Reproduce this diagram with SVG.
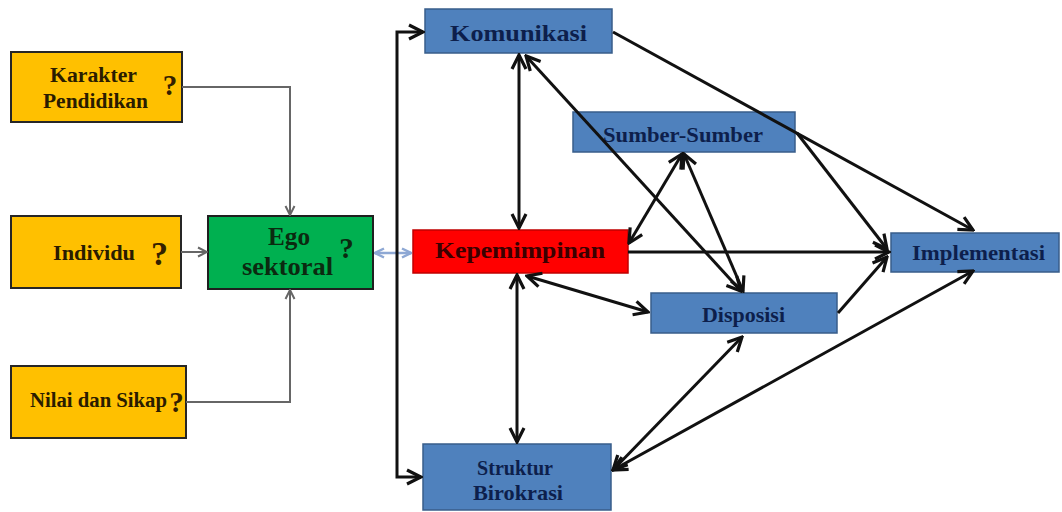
<svg xmlns="http://www.w3.org/2000/svg" width="1062" height="512" viewBox="0 0 1062 512">
  <style>
    .lbl { font-family: "Liberation Serif", "Times New Roman", serif; font-weight: bold; text-anchor: middle; }
    .yel { fill: #FFC000; stroke: #262626; stroke-width: 2; }
    .grn { fill: #00B050; stroke: #1f1f1f; stroke-width: 2; }
    .blu { fill: #4F81BD; stroke: #385D8A; stroke-width: 1.5; }
    .red { fill: #FF0000; stroke: #C00000; stroke-width: 1.5; }
    .tyel { fill: #2a1c00; }
    .tgrn { fill: #0b2a10; }
    .tblu { fill: #0d1f4c; }
    .tred { fill: #3a0000; }
    .q { fill: #332000; }
    .blk { fill: none; stroke: #111; stroke-width: 3; }
    .gry { fill: none; stroke: #666; stroke-width: 2; }
    .lb { fill: none; stroke: #8ea8d4; stroke-width: 2.5; }
  </style>
  <defs>
    <marker id="ah" markerUnits="userSpaceOnUse" markerWidth="18" markerHeight="18" viewBox="0 0 18 18" refX="16" refY="9" orient="auto-start-reverse">
      <path d="M2,2 L16,9 L2,16" fill="none" stroke="#111" stroke-width="3.2"/>
    </marker>
    <marker id="ag" markerUnits="userSpaceOnUse" markerWidth="12" markerHeight="12" viewBox="0 0 12 12" refX="11" refY="6" orient="auto-start-reverse">
      <path d="M2,1.5 L11,6 L2,10.5" fill="none" stroke="#666" stroke-width="2"/>
    </marker>
    <marker id="ab" markerUnits="userSpaceOnUse" markerWidth="12" markerHeight="12" viewBox="0 0 12 12" refX="11" refY="6" orient="auto-start-reverse">
      <path d="M2,1.5 L11,6 L2,10.5" fill="none" stroke="#8ea8d4" stroke-width="2.5"/>
    </marker>
  </defs>

  <rect width="1062" height="512" fill="#ffffff"/>

  <g id="karakter">
    <rect class="yel" x="11" y="52" width="171" height="70"/>
    <text class="lbl tyel" x="93.5" y="82" font-size="20" textLength="87" lengthAdjust="spacingAndGlyphs">Karakter</text>
    <text class="lbl tyel" x="95.5" y="108" font-size="20" textLength="105" lengthAdjust="spacingAndGlyphs">Pendidikan</text>
    <text class="lbl q" x="170" y="95" font-size="29">?</text>
  </g>

  <g id="individu">
    <rect class="yel" x="11" y="216" width="170" height="72"/>
    <text class="lbl tyel" x="94" y="260" font-size="22" textLength="82" lengthAdjust="spacingAndGlyphs">Individu</text>
    <text class="lbl q" x="159.5" y="265" font-size="34">?</text>
  </g>

  <g id="nilai">
    <rect class="yel" x="11" y="366" width="175" height="72"/>
    <text class="lbl tyel" x="98.5" y="407" font-size="20" textLength="137" lengthAdjust="spacingAndGlyphs">Nilai dan Sikap</text>
    <text class="lbl q" x="176.5" y="412" font-size="29">?</text>
  </g>

  <g id="ego">
    <rect class="grn" x="208" y="216" width="165" height="73"/>
    <text class="lbl tgrn" x="289" y="245" font-size="25" textLength="42" lengthAdjust="spacingAndGlyphs">Ego</text>
    <text class="lbl tgrn" x="287.5" y="275" font-size="25" textLength="91" lengthAdjust="spacingAndGlyphs">sektoral</text>
    <text class="lbl tgrn" x="346.5" y="258" font-size="29">?</text>
  </g>

  <g id="komunikasi">
    <rect class="blu" x="425" y="9" width="187" height="44"/>
    <text class="lbl tblu" x="518.5" y="41" font-size="24" textLength="137" lengthAdjust="spacingAndGlyphs">Komunikasi</text>
  </g>

  <g id="sumber">
    <rect class="blu" x="573" y="112" width="222" height="40"/>
    <text class="lbl tblu" x="683" y="142" font-size="22" textLength="160" lengthAdjust="spacingAndGlyphs">Sumber-Sumber</text>
  </g>

  <g id="kepemimpinan">
    <rect class="red" x="413" y="230" width="215" height="43"/>
    <text class="lbl tred" x="520" y="258" font-size="23" textLength="170" lengthAdjust="spacingAndGlyphs">Kepemimpinan</text>
  </g>

  <g id="disposisi">
    <rect class="blu" x="651" y="293" width="186" height="40"/>
    <text class="lbl tblu" x="743.5" y="322" font-size="22" textLength="83" lengthAdjust="spacingAndGlyphs">Disposisi</text>
  </g>

  <g id="implementasi">
    <rect class="blu" x="891" y="233" width="168" height="39"/>
    <text class="lbl tblu" x="978.5" y="260" font-size="22" textLength="133" lengthAdjust="spacingAndGlyphs">Implementasi</text>
  </g>

  <g id="struktur">
    <rect class="blu" x="423" y="444" width="188" height="66"/>
    <text class="lbl tblu" x="515" y="475" font-size="22" textLength="76" lengthAdjust="spacingAndGlyphs">Struktur</text>
    <text class="lbl tblu" x="518" y="500" font-size="22" textLength="90" lengthAdjust="spacingAndGlyphs">Birokrasi</text>
  </g>

  <g id="connectors">
    <!-- inputs into Ego sektoral -->
    <path class="gry" d="M182,87 H290 V215" marker-end="url(#ag)"/>
    <path class="gry" d="M181,252 H207" marker-end="url(#ag)"/>
    <path class="gry" d="M186,402 H290 V290" marker-end="url(#ag)"/>
    <!-- Ego sektoral to Kepemimpinan -->
    <path class="lb" d="M375,253 H411" marker-start="url(#ab)" marker-end="url(#ab)"/>
    <!-- bracket to Komunikasi and Struktur Birokrasi -->
    <path class="blk" d="M423,32 H397 V477 H421" marker-start="url(#ah)" marker-end="url(#ah)"/>

    <!-- two-way links -->
    <path class="blk" d="M519,55 V228" marker-start="url(#ah)" marker-end="url(#ah)"/>
    <path class="blk" d="M517,275 V442" marker-start="url(#ah)" marker-end="url(#ah)"/>
    <path class="blk" d="M526,56 L741,291" marker-start="url(#ah)" marker-end="url(#ah)"/>
    <path class="blk" d="M682,154 L629,243" marker-start="url(#ah)" marker-end="url(#ah)"/>
    <path class="blk" d="M684,154 L743,291" marker-start="url(#ah)" marker-end="url(#ah)"/>
    <path class="blk" d="M527,276 L648,312" marker-start="url(#ah)" marker-end="url(#ah)"/>
    <path class="blk" d="M613,470 L742,337" marker-start="url(#ah)" marker-end="url(#ah)"/>
    <path class="blk" d="M613,470 L973,271" marker-start="url(#ah)" marker-end="url(#ah)"/>

    <!-- into Implementasi -->
    <path class="blk" d="M613,32 L973,230" marker-end="url(#ah)"/>
    <path class="blk" d="M797,133 L887,249" marker-end="url(#ah)"/>
    <path class="blk" d="M628,252 H889" marker-end="url(#ah)"/>
    <path class="blk" d="M838,313 L887,257" marker-end="url(#ah)"/>
  </g>
</svg>
